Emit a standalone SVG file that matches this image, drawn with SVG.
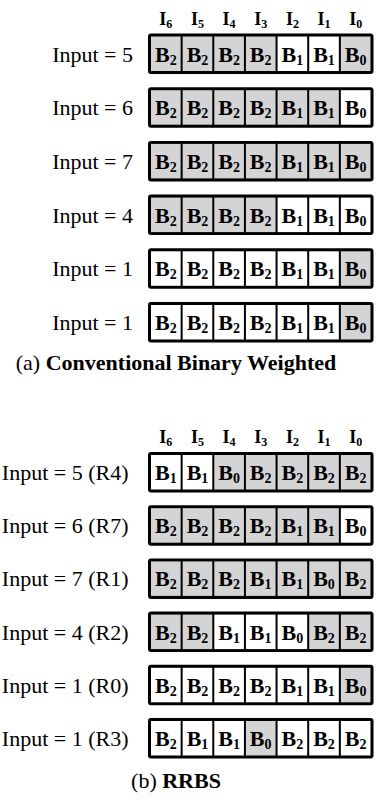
<svg xmlns="http://www.w3.org/2000/svg" width="378" height="808" viewBox="0 0 378 808">
<style>
text{font-family:"Liberation Serif","Times New Roman",serif;fill:#000}
.lbl{font-size:22px;text-anchor:end}
.hd{font-size:18px;font-weight:bold;text-anchor:middle}
.b{font-size:22px;font-weight:bold;text-anchor:middle}
.cap{font-size:22px;text-anchor:middle}
.fr{fill:#000}
.g{fill:#d4d4d4}
.w{fill:#fff}
</style>
<defs>
<g id="frame"><rect class="fr" x="148" y="0" width="225.5" height="40.5" rx="3"/></g>
</defs>

<g id="headers-a">
<text class="hd" x="165.8" y="25">I<tspan font-size="12" dy="3">6</tspan></text>
<text class="hd" x="197.5" y="25">I<tspan font-size="12" dy="3">5</tspan></text>
<text class="hd" x="229.1" y="25">I<tspan font-size="12" dy="3">4</tspan></text>
<text class="hd" x="260.7" y="25">I<tspan font-size="12" dy="3">3</tspan></text>
<text class="hd" x="292.4" y="25">I<tspan font-size="12" dy="3">2</tspan></text>
<text class="hd" x="324" y="25">I<tspan font-size="12" dy="3">1</tspan></text>
<text class="hd" x="355.7" y="25">I<tspan font-size="12" dy="3">0</tspan></text>
</g>

<g id="a-row1" transform="translate(0,33.5)">
<text class="lbl" x="133" y="28">Input = 5</text>
<use href="#frame"/>
<rect class="g" x="151" y="3" width="29.64" height="34.5"/><rect class="g" x="182.64" y="3" width="29.64" height="34.5"/><rect class="g" x="214.28" y="3" width="29.64" height="34.5"/><rect class="g" x="245.92" y="3" width="29.64" height="34.5"/><rect class="w" x="277.56" y="3" width="29.64" height="34.5"/><rect class="w" x="309.2" y="3" width="29.64" height="34.5"/><rect class="g" x="340.84" y="3" width="29.64" height="34.5"/>
<text class="b" x="165.8" y="28">B<tspan font-size="14" dy="3">2</tspan></text><text class="b" x="197.5" y="28">B<tspan font-size="14" dy="3">2</tspan></text><text class="b" x="229.1" y="28">B<tspan font-size="14" dy="3">2</tspan></text><text class="b" x="260.7" y="28">B<tspan font-size="14" dy="3">2</tspan></text><text class="b" x="292.4" y="28">B<tspan font-size="14" dy="3">1</tspan></text><text class="b" x="324" y="28">B<tspan font-size="14" dy="3">1</tspan></text><text class="b" x="355.7" y="28">B<tspan font-size="14" dy="3">0</tspan></text>
</g>

<g id="a-row2" transform="translate(0,87.2)">
<text class="lbl" x="133" y="28">Input = 6</text>
<use href="#frame"/>
<rect class="g" x="151" y="3" width="29.64" height="34.5"/><rect class="g" x="182.64" y="3" width="29.64" height="34.5"/><rect class="g" x="214.28" y="3" width="29.64" height="34.5"/><rect class="g" x="245.92" y="3" width="29.64" height="34.5"/><rect class="g" x="277.56" y="3" width="29.64" height="34.5"/><rect class="g" x="309.2" y="3" width="29.64" height="34.5"/><rect class="w" x="340.84" y="3" width="29.64" height="34.5"/>
<text class="b" x="165.8" y="28">B<tspan font-size="14" dy="3">2</tspan></text><text class="b" x="197.5" y="28">B<tspan font-size="14" dy="3">2</tspan></text><text class="b" x="229.1" y="28">B<tspan font-size="14" dy="3">2</tspan></text><text class="b" x="260.7" y="28">B<tspan font-size="14" dy="3">2</tspan></text><text class="b" x="292.4" y="28">B<tspan font-size="14" dy="3">1</tspan></text><text class="b" x="324" y="28">B<tspan font-size="14" dy="3">1</tspan></text><text class="b" x="355.7" y="28">B<tspan font-size="14" dy="3">0</tspan></text>
</g>

<g id="a-row3" transform="translate(0,140.9)">
<text class="lbl" x="133" y="28">Input = 7</text>
<use href="#frame"/>
<rect class="g" x="151" y="3" width="29.64" height="34.5"/><rect class="g" x="182.64" y="3" width="29.64" height="34.5"/><rect class="g" x="214.28" y="3" width="29.64" height="34.5"/><rect class="g" x="245.92" y="3" width="29.64" height="34.5"/><rect class="g" x="277.56" y="3" width="29.64" height="34.5"/><rect class="g" x="309.2" y="3" width="29.64" height="34.5"/><rect class="g" x="340.84" y="3" width="29.64" height="34.5"/>
<text class="b" x="165.8" y="28">B<tspan font-size="14" dy="3">2</tspan></text><text class="b" x="197.5" y="28">B<tspan font-size="14" dy="3">2</tspan></text><text class="b" x="229.1" y="28">B<tspan font-size="14" dy="3">2</tspan></text><text class="b" x="260.7" y="28">B<tspan font-size="14" dy="3">2</tspan></text><text class="b" x="292.4" y="28">B<tspan font-size="14" dy="3">1</tspan></text><text class="b" x="324" y="28">B<tspan font-size="14" dy="3">1</tspan></text><text class="b" x="355.7" y="28">B<tspan font-size="14" dy="3">0</tspan></text>
</g>

<g id="a-row4" transform="translate(0,194.6)">
<text class="lbl" x="133" y="28">Input = 4</text>
<use href="#frame"/>
<rect class="g" x="151" y="3" width="29.64" height="34.5"/><rect class="g" x="182.64" y="3" width="29.64" height="34.5"/><rect class="g" x="214.28" y="3" width="29.64" height="34.5"/><rect class="g" x="245.92" y="3" width="29.64" height="34.5"/><rect class="w" x="277.56" y="3" width="29.64" height="34.5"/><rect class="w" x="309.2" y="3" width="29.64" height="34.5"/><rect class="w" x="340.84" y="3" width="29.64" height="34.5"/>
<text class="b" x="165.8" y="28">B<tspan font-size="14" dy="3">2</tspan></text><text class="b" x="197.5" y="28">B<tspan font-size="14" dy="3">2</tspan></text><text class="b" x="229.1" y="28">B<tspan font-size="14" dy="3">2</tspan></text><text class="b" x="260.7" y="28">B<tspan font-size="14" dy="3">2</tspan></text><text class="b" x="292.4" y="28">B<tspan font-size="14" dy="3">1</tspan></text><text class="b" x="324" y="28">B<tspan font-size="14" dy="3">1</tspan></text><text class="b" x="355.7" y="28">B<tspan font-size="14" dy="3">0</tspan></text>
</g>

<g id="a-row5" transform="translate(0,248.3)">
<text class="lbl" x="133" y="28">Input = 1</text>
<use href="#frame"/>
<rect class="w" x="151" y="3" width="29.64" height="34.5"/><rect class="w" x="182.64" y="3" width="29.64" height="34.5"/><rect class="w" x="214.28" y="3" width="29.64" height="34.5"/><rect class="w" x="245.92" y="3" width="29.64" height="34.5"/><rect class="w" x="277.56" y="3" width="29.64" height="34.5"/><rect class="w" x="309.2" y="3" width="29.64" height="34.5"/><rect class="g" x="340.84" y="3" width="29.64" height="34.5"/>
<text class="b" x="165.8" y="28">B<tspan font-size="14" dy="3">2</tspan></text><text class="b" x="197.5" y="28">B<tspan font-size="14" dy="3">2</tspan></text><text class="b" x="229.1" y="28">B<tspan font-size="14" dy="3">2</tspan></text><text class="b" x="260.7" y="28">B<tspan font-size="14" dy="3">2</tspan></text><text class="b" x="292.4" y="28">B<tspan font-size="14" dy="3">1</tspan></text><text class="b" x="324" y="28">B<tspan font-size="14" dy="3">1</tspan></text><text class="b" x="355.7" y="28">B<tspan font-size="14" dy="3">0</tspan></text>
</g>

<g id="a-row6" transform="translate(0,302)">
<text class="lbl" x="133" y="28">Input = 1</text>
<use href="#frame"/>
<rect class="w" x="151" y="3" width="29.64" height="34.5"/><rect class="w" x="182.64" y="3" width="29.64" height="34.5"/><rect class="w" x="214.28" y="3" width="29.64" height="34.5"/><rect class="w" x="245.92" y="3" width="29.64" height="34.5"/><rect class="w" x="277.56" y="3" width="29.64" height="34.5"/><rect class="w" x="309.2" y="3" width="29.64" height="34.5"/><rect class="g" x="340.84" y="3" width="29.64" height="34.5"/>
<text class="b" x="165.8" y="28">B<tspan font-size="14" dy="3">2</tspan></text><text class="b" x="197.5" y="28">B<tspan font-size="14" dy="3">2</tspan></text><text class="b" x="229.1" y="28">B<tspan font-size="14" dy="3">2</tspan></text><text class="b" x="260.7" y="28">B<tspan font-size="14" dy="3">2</tspan></text><text class="b" x="292.4" y="28">B<tspan font-size="14" dy="3">1</tspan></text><text class="b" x="324" y="28">B<tspan font-size="14" dy="3">1</tspan></text><text class="b" x="355.7" y="28">B<tspan font-size="14" dy="3">0</tspan></text>
</g>

<text id="caption-a" class="cap" x="176" y="370">(a) <tspan font-weight="bold">Conventional Binary Weighted</tspan></text>

<g id="headers-b">
<text class="hd" x="165.8" y="443">I<tspan font-size="12" dy="3">6</tspan></text>
<text class="hd" x="197.5" y="443">I<tspan font-size="12" dy="3">5</tspan></text>
<text class="hd" x="229.1" y="443">I<tspan font-size="12" dy="3">4</tspan></text>
<text class="hd" x="260.7" y="443">I<tspan font-size="12" dy="3">3</tspan></text>
<text class="hd" x="292.4" y="443">I<tspan font-size="12" dy="3">2</tspan></text>
<text class="hd" x="324" y="443">I<tspan font-size="12" dy="3">1</tspan></text>
<text class="hd" x="355.7" y="443">I<tspan font-size="12" dy="3">0</tspan></text>
</g>

<g id="b-row1" transform="translate(0,452)">
<text class="lbl" x="128.5" y="28">Input = 5 (R4)</text>
<use href="#frame"/>
<rect class="w" x="151" y="3" width="29.64" height="34.5"/><rect class="w" x="182.64" y="3" width="29.64" height="34.5"/><rect class="g" x="214.28" y="3" width="29.64" height="34.5"/><rect class="g" x="245.92" y="3" width="29.64" height="34.5"/><rect class="g" x="277.56" y="3" width="29.64" height="34.5"/><rect class="g" x="309.2" y="3" width="29.64" height="34.5"/><rect class="g" x="340.84" y="3" width="29.64" height="34.5"/>
<text class="b" x="165.8" y="28">B<tspan font-size="14" dy="3">1</tspan></text><text class="b" x="197.5" y="28">B<tspan font-size="14" dy="3">1</tspan></text><text class="b" x="229.1" y="28">B<tspan font-size="14" dy="3">0</tspan></text><text class="b" x="260.7" y="28">B<tspan font-size="14" dy="3">2</tspan></text><text class="b" x="292.4" y="28">B<tspan font-size="14" dy="3">2</tspan></text><text class="b" x="324" y="28">B<tspan font-size="14" dy="3">2</tspan></text><text class="b" x="355.7" y="28">B<tspan font-size="14" dy="3">2</tspan></text>
</g>

<g id="b-row2" transform="translate(0,505.2)">
<text class="lbl" x="128.5" y="28">Input = 6 (R7)</text>
<use href="#frame"/>
<rect class="g" x="151" y="3" width="29.64" height="34.5"/><rect class="g" x="182.64" y="3" width="29.64" height="34.5"/><rect class="g" x="214.28" y="3" width="29.64" height="34.5"/><rect class="g" x="245.92" y="3" width="29.64" height="34.5"/><rect class="g" x="277.56" y="3" width="29.64" height="34.5"/><rect class="g" x="309.2" y="3" width="29.64" height="34.5"/><rect class="w" x="340.84" y="3" width="29.64" height="34.5"/>
<text class="b" x="165.8" y="28">B<tspan font-size="14" dy="3">2</tspan></text><text class="b" x="197.5" y="28">B<tspan font-size="14" dy="3">2</tspan></text><text class="b" x="229.1" y="28">B<tspan font-size="14" dy="3">2</tspan></text><text class="b" x="260.7" y="28">B<tspan font-size="14" dy="3">2</tspan></text><text class="b" x="292.4" y="28">B<tspan font-size="14" dy="3">1</tspan></text><text class="b" x="324" y="28">B<tspan font-size="14" dy="3">1</tspan></text><text class="b" x="355.7" y="28">B<tspan font-size="14" dy="3">0</tspan></text>
</g>

<g id="b-row3" transform="translate(0,558.4)">
<text class="lbl" x="128.5" y="28">Input = 7 (R1)</text>
<use href="#frame"/>
<rect class="g" x="151" y="3" width="29.64" height="34.5"/><rect class="g" x="182.64" y="3" width="29.64" height="34.5"/><rect class="g" x="214.28" y="3" width="29.64" height="34.5"/><rect class="g" x="245.92" y="3" width="29.64" height="34.5"/><rect class="g" x="277.56" y="3" width="29.64" height="34.5"/><rect class="g" x="309.2" y="3" width="29.64" height="34.5"/><rect class="g" x="340.84" y="3" width="29.64" height="34.5"/>
<text class="b" x="165.8" y="28">B<tspan font-size="14" dy="3">2</tspan></text><text class="b" x="197.5" y="28">B<tspan font-size="14" dy="3">2</tspan></text><text class="b" x="229.1" y="28">B<tspan font-size="14" dy="3">2</tspan></text><text class="b" x="260.7" y="28">B<tspan font-size="14" dy="3">1</tspan></text><text class="b" x="292.4" y="28">B<tspan font-size="14" dy="3">1</tspan></text><text class="b" x="324" y="28">B<tspan font-size="14" dy="3">0</tspan></text><text class="b" x="355.7" y="28">B<tspan font-size="14" dy="3">2</tspan></text>
</g>

<g id="b-row4" transform="translate(0,611.6)">
<text class="lbl" x="128.5" y="28">Input = 4 (R2)</text>
<use href="#frame"/>
<rect class="g" x="151" y="3" width="29.64" height="34.5"/><rect class="g" x="182.64" y="3" width="29.64" height="34.5"/><rect class="w" x="214.28" y="3" width="29.64" height="34.5"/><rect class="w" x="245.92" y="3" width="29.64" height="34.5"/><rect class="w" x="277.56" y="3" width="29.64" height="34.5"/><rect class="g" x="309.2" y="3" width="29.64" height="34.5"/><rect class="g" x="340.84" y="3" width="29.64" height="34.5"/>
<text class="b" x="165.8" y="28">B<tspan font-size="14" dy="3">2</tspan></text><text class="b" x="197.5" y="28">B<tspan font-size="14" dy="3">2</tspan></text><text class="b" x="229.1" y="28">B<tspan font-size="14" dy="3">1</tspan></text><text class="b" x="260.7" y="28">B<tspan font-size="14" dy="3">1</tspan></text><text class="b" x="292.4" y="28">B<tspan font-size="14" dy="3">0</tspan></text><text class="b" x="324" y="28">B<tspan font-size="14" dy="3">2</tspan></text><text class="b" x="355.7" y="28">B<tspan font-size="14" dy="3">2</tspan></text>
</g>

<g id="b-row5" transform="translate(0,664.8)">
<text class="lbl" x="128.5" y="28">Input = 1 (R0)</text>
<use href="#frame"/>
<rect class="w" x="151" y="3" width="29.64" height="34.5"/><rect class="w" x="182.64" y="3" width="29.64" height="34.5"/><rect class="w" x="214.28" y="3" width="29.64" height="34.5"/><rect class="w" x="245.92" y="3" width="29.64" height="34.5"/><rect class="w" x="277.56" y="3" width="29.64" height="34.5"/><rect class="w" x="309.2" y="3" width="29.64" height="34.5"/><rect class="g" x="340.84" y="3" width="29.64" height="34.5"/>
<text class="b" x="165.8" y="28">B<tspan font-size="14" dy="3">2</tspan></text><text class="b" x="197.5" y="28">B<tspan font-size="14" dy="3">2</tspan></text><text class="b" x="229.1" y="28">B<tspan font-size="14" dy="3">2</tspan></text><text class="b" x="260.7" y="28">B<tspan font-size="14" dy="3">2</tspan></text><text class="b" x="292.4" y="28">B<tspan font-size="14" dy="3">1</tspan></text><text class="b" x="324" y="28">B<tspan font-size="14" dy="3">1</tspan></text><text class="b" x="355.7" y="28">B<tspan font-size="14" dy="3">0</tspan></text>
</g>

<g id="b-row6" transform="translate(0,718)">
<text class="lbl" x="128.5" y="28">Input = 1 (R3)</text>
<use href="#frame"/>
<rect class="w" x="151" y="3" width="29.64" height="34.5"/><rect class="w" x="182.64" y="3" width="29.64" height="34.5"/><rect class="w" x="214.28" y="3" width="29.64" height="34.5"/><rect class="g" x="245.92" y="3" width="29.64" height="34.5"/><rect class="w" x="277.56" y="3" width="29.64" height="34.5"/><rect class="w" x="309.2" y="3" width="29.64" height="34.5"/><rect class="w" x="340.84" y="3" width="29.64" height="34.5"/>
<text class="b" x="165.8" y="28">B<tspan font-size="14" dy="3">2</tspan></text><text class="b" x="197.5" y="28">B<tspan font-size="14" dy="3">1</tspan></text><text class="b" x="229.1" y="28">B<tspan font-size="14" dy="3">1</tspan></text><text class="b" x="260.7" y="28">B<tspan font-size="14" dy="3">0</tspan></text><text class="b" x="292.4" y="28">B<tspan font-size="14" dy="3">2</tspan></text><text class="b" x="324" y="28">B<tspan font-size="14" dy="3">2</tspan></text><text class="b" x="355.7" y="28">B<tspan font-size="14" dy="3">2</tspan></text>
</g>

<text id="caption-b" class="cap" x="176" y="788">(b) <tspan font-weight="bold">RRBS</tspan></text>
</svg>
